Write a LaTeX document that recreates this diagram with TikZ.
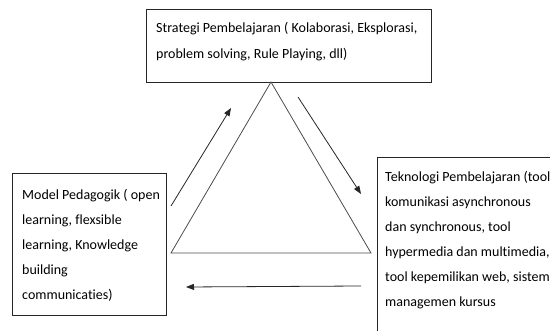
\documentclass[tikz,border=0pt]{standalone}
\usepackage{fontspec}
\setmainfont[Ligatures=NoCommon]{Carlito}
\usetikzlibrary{arrows.meta}
\begin{document}
\begin{tikzpicture}[x=1pt,y=-1pt,
  box/.style={draw=black!85, line width=0.9pt, inner sep=0pt},
  txt/.style={inner sep=0pt, align=left, anchor=north west, font=\fontsize{14}{25}\selectfont},
  tri/.style={draw=black!70, line width=0.8pt},
  flow/.style={draw=black!85, line width=0.8pt, -{Triangle[length=8pt,width=6pt]}}]
\useasboundingbox (0,0) rectangle (550,331);
\begin{scope}
\clip (0,0) rectangle (550,331);
\node[box, minimum width=285pt, minimum height=73pt, anchor=north west] (topbox) at (146,9) {};
\node[box, minimum width=154pt, minimum height=142pt, anchor=north west] (leftbox) at (12,173) {};
\node[box, minimum width=200pt, minimum height=200pt, anchor=north west] (rightbox) at (377,157) {};
\end{scope}
\node[txt] (toptxt) at (156,22.5) {Strategi Pembelajaran ( Kolaborasi, Eksplorasi,\\[1pt]problem solving, Rule Playing, dll)};
\node[txt] (lefttxt) at (22,189) {Model Pedagogik ( open\\learning, flexsible\\learning, Knowledge\\building\\communicaties)};
\node[txt] (righttxt) at (385,171) {Teknologi Pembelajaran (tool\\komunikasi asynchronous\\dan synchronous, tool\\hypermedia dan multimedia,\\tool kepemilikan web, sistem\\managemen kursus};
\coordinate (apex) at (271,82);
\coordinate (bl) at (171,253);
\coordinate (br) at (371,253);
\draw[tri] (apex) -- (bl) -- (br) -- cycle;
\coordinate (a1s) at (171,206);
\coordinate (a1e) at (231,108);
\coordinate (a2s) at (298,97);
\coordinate (a2e) at (361,194);
\coordinate (a3s) at (361,286);
\coordinate (a3e) at (186,287);
\draw[flow] (a1s) -- (a1e);
\draw[flow] (a2s) -- (a2e);
\draw[flow] (a3s) -- (a3e);
\end{tikzpicture}
\end{document}
